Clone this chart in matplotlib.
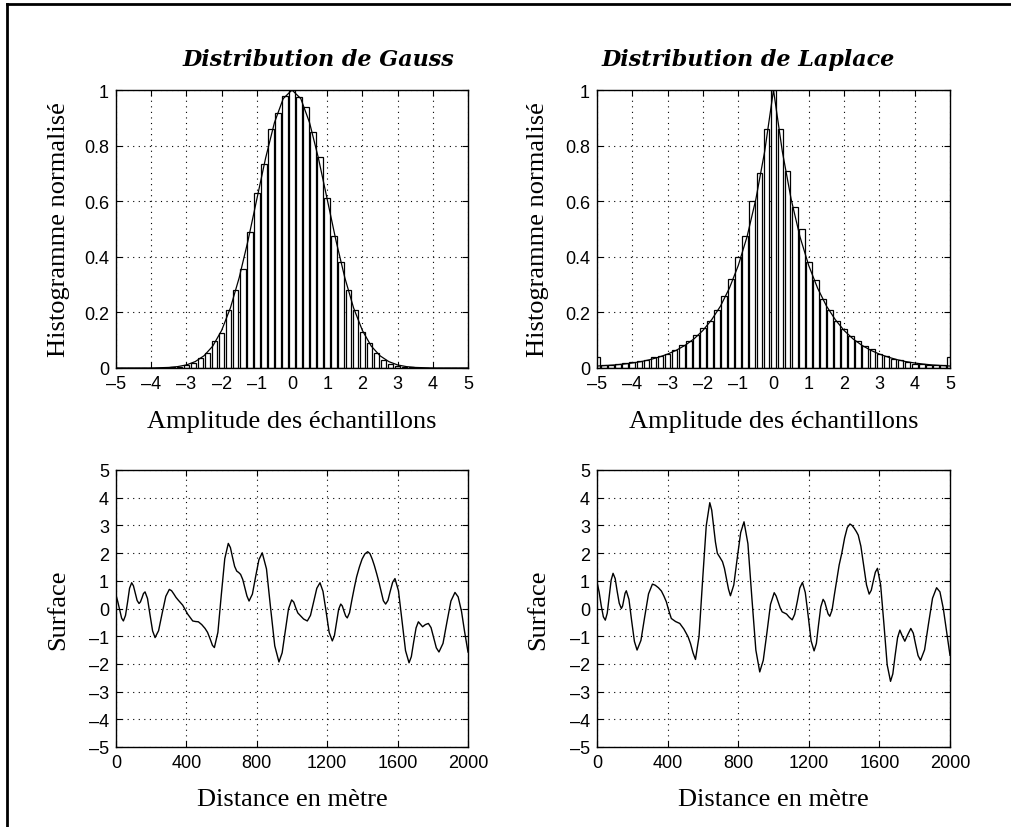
import matplotlib
matplotlib.use("Agg")
import matplotlib.pyplot as plt
from matplotlib.lines import Line2D

# histogram bin centres (step 0.2, -5 .. 5)
bin_centres = [round(-5 + 0.2 * k, 1) for k in range(51)]

gauss_hist = [
    0.0, 0.0, 0.0, 0.0, 0.0, 0.0, 0.0, 0.0, 0.002, 0.004,
    0.01, 0.018, 0.036, 0.054, 0.096, 0.127, 0.207, 0.28, 0.355, 0.49,
    0.63, 0.735, 0.86, 0.918, 0.98, 1.0, 0.976, 0.94, 0.85, 0.76,
    0.61, 0.476, 0.38, 0.28, 0.21, 0.13, 0.09, 0.054, 0.03, 0.016,
    0.008, 0.004, 0.002, 0.0, 0.0, 0.0, 0.0, 0.0, 0.0, 0.0,
    0.0,
]

laplace_hist = [
    0.04, 0.01, 0.012, 0.014, 0.017, 0.02, 0.024, 0.03, 0.039, 0.042,
    0.052, 0.064, 0.082, 0.096, 0.12, 0.145, 0.17, 0.207, 0.26, 0.32,
    0.40, 0.475, 0.60, 0.70, 0.86, 1.0, 0.86, 0.71, 0.58, 0.50,
    0.38, 0.317, 0.25, 0.21, 0.17, 0.14, 0.115, 0.096, 0.078, 0.069,
    0.05, 0.042, 0.033, 0.028, 0.02, 0.016, 0.013, 0.012, 0.01, 0.01,
    0.04,
]

# theoretical curves (step 0.25, -5 .. 5)
curve_x = [round(-5 + 0.25 * k, 2) for k in range(41)]
gauss_curve = [
    0.0, 0.0, 0.0, 0.0, 0.0, 0.001, 0.002, 0.005, 0.011, 0.023,
    0.044, 0.079, 0.135, 0.216, 0.325, 0.458, 0.607, 0.755, 0.882, 0.969,
    1.0, 0.969, 0.882, 0.755, 0.607, 0.458, 0.325, 0.216, 0.135, 0.079,
    0.044, 0.023, 0.011, 0.005, 0.002, 0.001, 0.0, 0.0, 0.0, 0.0,
    0.0,
]
laplace_curve = [
    0.007, 0.009, 0.011, 0.014, 0.018, 0.023, 0.03, 0.039, 0.05, 0.064,
    0.082, 0.105, 0.135, 0.174, 0.223, 0.287, 0.368, 0.472, 0.607, 0.779,
    1.0, 0.779, 0.607, 0.472, 0.368, 0.287, 0.223, 0.174, 0.135, 0.105,
    0.082, 0.064, 0.05, 0.039, 0.03, 0.023, 0.018, 0.014, 0.011, 0.009,
    0.007,
]

# surfaces (distance in m, height)
gauss_d = [
    0, 10, 21, 32, 42, 54, 66, 77, 89, 99, 110, 120, 131, 139, 148, 156, 165,
    179, 193, 208, 222, 242, 262, 283, 303, 316, 329, 341, 354, 379, 407, 436,
    452, 468, 487, 506, 520, 535, 548, 559, 579, 598, 618, 638, 650, 662, 674,
    686, 697, 708, 720, 732, 744, 756, 775, 793, 812, 831, 855, 878, 902, 926,
    944, 962, 980, 998, 1010, 1021, 1033, 1045, 1066, 1087, 1105, 1123, 1141,
    1159, 1176, 1194, 1211, 1229, 1241, 1253, 1265, 1277, 1286, 1295, 1305,
    1314, 1327, 1340, 1354, 1367, 1383, 1398, 1414, 1430, 1443, 1456, 1468,
    1481, 1494, 1507, 1519, 1532, 1545, 1558, 1572, 1585, 1605, 1625, 1645,
    1665, 1678, 1691, 1705, 1718, 1730, 1742, 1758, 1775, 1790, 1805, 1820,
    1835, 1858, 1880, 1903, 1926, 1944, 1963, 1981, 2000,
]
gauss_h = [
    0.48, 0.25, -0.05, -0.35, -0.45, -0.25, 0.24, 0.73, 0.93, 0.82, 0.55, 0.29,
    0.18, 0.24, 0.39, 0.54, 0.60, 0.36, -0.22, -0.81, -1.05, -0.80, -0.18, 0.44,
    0.69, 0.64, 0.52, 0.40, 0.30, 0.12, -0.20, -0.45, -0.47, -0.48, -0.58,
    -0.72, -0.86, -1.10, -1.33, -1.41, -0.86, 0.47, 1.80, 2.35, 2.20, 1.85,
    1.52, 1.35, 1.30, 1.23, 1.05, 0.75, 0.45, 0.27, 0.52, 1.14, 1.76, 2.01,
    1.43, 0.04, -1.35, -1.93, -1.60, -0.81, -0.02, 0.31, 0.23, 0.03, -0.16,
    -0.24, -0.38, -0.45, -0.25, 0.24, 0.73, 0.93, 0.62, -0.12, -0.86, -1.17,
    -0.98, -0.50, -0.03, 0.16, 0.09, -0.09, -0.27, -0.34, -0.15, 0.30, 0.75,
    1.14, 1.50, 1.78, 1.97, 2.05, 1.98, 1.78, 1.55, 1.26, 0.95, 0.60, 0.28,
    0.16, 0.29, 0.62, 0.95, 1.08, 0.64, -0.44, -1.52, -1.96, -1.74, -1.22,
    -0.70, -0.48, -0.57, -0.66, -0.58, -0.54, -0.69, -1.05, -1.42, -1.57,
    -1.26, -0.50, 0.27, 0.58, 0.42, -0.10, -0.85, -1.57,
]

laplace_d = [
    0, 12, 24, 36, 47, 58, 69, 80, 91, 103, 114, 126, 138, 145, 152, 159, 166,
    181, 196, 212, 227, 249, 270, 292, 314, 330, 348, 365, 379, 393, 407, 421,
    445, 469, 492, 516, 530, 544, 558, 578, 598, 619, 639, 650, 661, 671, 682,
    696, 711, 722, 733, 745, 756, 775, 794, 814, 833, 855, 877, 900, 922, 942,
    963, 983, 1004, 1015, 1027, 1038, 1049, 1062, 1074, 1090, 1106, 1120, 1135,
    1149, 1164, 1180, 1197, 1213, 1230, 1243, 1255, 1268, 1281, 1290, 1300,
    1309, 1319, 1332, 1345, 1359, 1372, 1387, 1403, 1418, 1433, 1445, 1457,
    1469, 1480, 1495, 1511, 1527, 1542, 1554, 1565, 1577, 1589, 1607, 1626,
    1644, 1663, 1676, 1689, 1703, 1716, 1730, 1744, 1761, 1778, 1792, 1805,
    1819, 1833, 1856, 1878, 1901, 1924, 1943, 1962, 1981, 2000,
]
laplace_h = [
    0.96, 0.60, 0.10, -0.30, -0.42, -0.17, 0.42, 1.02, 1.27, 1.08, 0.63, 0.19,
    0.0, 0.09, 0.32, 0.55, 0.64, 0.33, -0.43, -1.19, -1.50, -1.15, -0.31, 0.53,
    0.88, 0.84, 0.75, 0.63, 0.45, 0.24, -0.08, -0.36, -0.47, -0.54, -0.74,
    -1.02, -1.27, -1.60, -1.84, -1.01, 0.99, 2.99, 3.82, 3.55, 2.95, 2.40,
    1.99, 1.85, 1.69, 1.45, 1.10, 0.70, 0.46, 0.85, 1.79, 2.74, 3.13, 2.34,
    0.42, -1.50, -2.29, -1.87, -0.86, 0.15, 0.57, 0.45, 0.22, 0.02, -0.12,
    -0.16, -0.20, -0.32, -0.41, -0.21, 0.26, 0.74, 0.94, 0.58, -0.29, -1.17,
    -1.53, -1.26, -0.60, 0.06, 0.33, 0.24, 0.02, -0.19, -0.28, -0.05, 0.50,
    1.05, 1.57, 2.00, 2.55, 2.92, 3.05, 3.00, 2.90, 2.78, 2.65, 2.25, 1.55,
    0.85, 0.52, 0.66, 0.98, 1.31, 1.45, 0.85, -0.59, -2.03, -2.63, -2.36,
    -1.70, -1.05, -0.78, -1.00, -1.18, -0.94, -0.72, -0.89, -1.29, -1.70,
    -1.87, -1.49, -0.56, 0.37, 0.75, 0.60, 0.0, -0.85, -1.69,
]

amp_ticks = [-5, -4, -3, -2, -1, 0, 1, 2, 3, 4, 5]
hist_ticks = [0, 0.2, 0.4, 0.6, 0.8, 1]
hist_tick_labels = ["0", "0.2", "0.4", "0.6", "0.8", "1"]
dist_ticks = [0, 400, 800, 1200, 1600, 2000]
surf_ticks = [-5, -4, -3, -2, -1, 0, 1, 2, 3, 4, 5]

SANS = ["Liberation Sans", "DejaVu Sans"]
NARROW = ["Liberation Sans Narrow", "Liberation Sans", "DejaVu Sans"]
SERIF = ["Liberation Serif", "DejaVu Serif"]
LABEL_SIZE = 19

W, H = 1011, 828
fig = plt.figure(figsize=(W / 100, H / 100), dpi=100)


def box(l, t, r, b):
    return [l / W, 1 - b / H, (r - l) / W, (b - t) / H]


def style(ax):
    ax.tick_params(direction="in", length=4, width=0.8, top=True, right=True,
                   labelsize=13, pad=5)
    ax.grid(True, linestyle=(0, (1, 4)), color="black", linewidth=0.8)
    for s in ax.spines.values():
        s.set_linewidth(1.0)


def minus(t):
    return str(t).replace("-", "\u2013")


def hist_panel(rect, hist, cx, cy, ylab_x):
    ax = fig.add_axes(box(*rect))
    ax.bar(bin_centres, hist, width=0.16, color="white", edgecolor="black",
           linewidth=0.9, zorder=2)
    ax.plot(cx, cy, color="black", linewidth=0.9, zorder=3)
    ax.set_xlim(-5, 5)
    ax.set_ylim(0, 1)
    ax.set_xticks(amp_ticks)
    ax.set_xticklabels([minus(t) for t in amp_ticks], family=SANS)
    ax.set_yticks(hist_ticks)
    ax.set_yticklabels(hist_tick_labels, family=SANS)
    style(ax)
    ax.set_axisbelow(True)
    ax.set_xlabel("Amplitude des échantillons", family=SERIF,
                  fontsize=LABEL_SIZE, va="center")
    ax.xaxis.set_label_coords(0.5, -0.19)
    ax.set_ylabel("Histogramme normalisé", family=SERIF, fontsize=LABEL_SIZE,
                  va="center")
    ax.yaxis.set_label_coords(ylab_x, 0.5)
    return ax


def surf_panel(rect, d, h, ylab_x):
    ax = fig.add_axes(box(*rect))
    ax.plot(d, h, color="black", linewidth=1.0)
    ax.set_xlim(0, 2000)
    ax.set_ylim(-5, 5)
    ax.set_xticks(dist_ticks)
    ax.set_xticklabels([str(t) for t in dist_ticks], family=NARROW)
    ax.set_yticks(surf_ticks)
    ax.set_yticklabels([minus(t) for t in surf_ticks], family=SANS)
    style(ax)
    ax.set_xlabel("Distance en mètre", family=SERIF, fontsize=LABEL_SIZE,
                  va="center")
    ax.xaxis.set_label_coords(0.5, -0.188)
    ax.set_ylabel("Surface", family=SERIF, fontsize=LABEL_SIZE, va="center")
    ax.yaxis.set_label_coords(ylab_x, 0.5)
    return ax


hist_panel((116, 91, 468, 369), gauss_hist, curve_x, gauss_curve, -0.163)
hist_panel((597, 91, 950, 369), laplace_hist, curve_x, laplace_curve, -0.167)
surf_panel((116, 471, 468, 748), gauss_d, gauss_h, -0.163)
surf_panel((597, 471, 950, 748), laplace_d, laplace_h, -0.167)

fig.text(318 / W, 1 - 60 / H, "Distribution de Gauss", ha="center", va="center",
         family="DejaVu Serif", fontsize=16, fontweight="bold", style="italic")
fig.text(748 / W, 1 - 60 / H, "Distribution de Laplace", ha="center",
         va="center", family="DejaVu Serif", fontsize=16, fontweight="bold",
         style="italic")

# page frame (left and top edges)
fig.add_artist(Line2D([7 / W, 7 / W], [0, 1 - 5 / H], color="black",
                      linewidth=2, transform=fig.transFigure))
fig.add_artist(Line2D([7 / W, 1], [1 - 5 / H, 1 - 5 / H], color="black",
                      linewidth=2, transform=fig.transFigure))

fig.savefig("out.png", dpi=100)
